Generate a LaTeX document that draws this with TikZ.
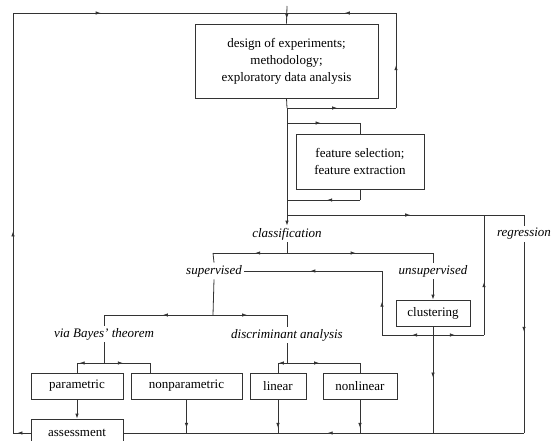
\documentclass[tikz,border=0pt]{standalone}
\usepackage{fontspec}
\setmainfont{Liberation Serif}
\usetikzlibrary{arrows.meta,decorations.markings}
\begin{document}
\begin{tikzpicture}[x=1pt,y=-1pt,line width=0.8pt,draw=black!80,
    font=\fontsize{13}{17}\selectfont,
    box/.style={draw=black!80,minimum height=26pt,inner sep=2pt,align=center},
    lbl/.style={font=\fontsize{13}{17}\selectfont\itshape,inner sep=2pt},
    mid/.style={postaction={decorate},decoration={markings,
        mark=at position #1 with {\arrow{Latex[length=5pt,width=3.5pt]}}}},
    tip/.style={-{Latex[length=5pt,width=3.5pt]}}]
    \clip (0,0) rectangle (560,441);
    % boxes and labels
    \node[box,minimum width=183pt,minimum height=74pt] (design) at (286.5,61)
        {design of experiments;\\ methodology;\\ exploratory data analysis};
    \node[box,minimum width=128pt,minimum height=55pt] (feature) at (360,161.5)
        {feature selection;\\ feature extraction};
    \node[lbl] (classif) at (287,234) {classification};
    \node[lbl] (regr) at (524,234) {regression};
    \node[lbl] (superv) at (214,271) {supervised};
    \node[lbl] (unsuperv) at (433,271) {unsupervised};
    \node[box,minimum width=74pt] (cluster) at (433,313) {clustering};
    \node[lbl] (bayes) at (104,334) {via Bayes' theorem};
    \node[lbl] (discr) at (287,335) {discriminant analysis};
    \node[box,minimum width=92pt] (param) at (77,386) {parametric};
    \node[box,minimum width=111pt] (nonparam) at (186.5,386) {nonparametric};
    \node[box,minimum width=56pt] (linear) at (278,386) {linear};
    \node[box,minimum width=74pt] (nonlinear) at (360,386) {nonlinear};
    \node[box,minimum width=92pt,minimum height=28pt] (assess) at (77,433) {assessment};
    % corner points
    \coordinate (top) at (287,6);
    \coordinate (tl) at (13,13);
    \coordinate (tj) at (287,13);
    \coordinate (tr) at (396,13);
    \coordinate (lj) at (287,108);
    \coordinate (lr) at (396,108);
    \coordinate (fa) at (287,123);
    \coordinate (fb) at (360,123);
    \coordinate (fc) at (360,200);
    \coordinate (fd) at (287,200);
    \coordinate (cj) at (287,215);
    \coordinate (cm) at (484,215);
    \coordinate (cr) at (524,215);
    \coordinate (sj) at (287,253);
    \coordinate (sl) at (213,253);
    \coordinate (sr) at (433,253);
    \coordinate (ku) at (382,271);
    \coordinate (kl) at (382,335);
    \coordinate (kj) at (433,335);
    \coordinate (kr) at (484,335);
    \coordinate (dj) at (213,315);
    \coordinate (dl) at (104,315);
    \coordinate (dr) at (287,315);
    \coordinate (bj) at (104,363);
    \coordinate (bl) at (77,363);
    \coordinate (br) at (150,363);
    \coordinate (ej) at (287,363);
    \coordinate (el) at (278,363);
    \coordinate (er) at (360,363);
    \coordinate (bot) at (524,433);
    \coordinate (al) at (13,433);
    % top part
    \draw[mid=0.72] (top) -- (design.north);
    \draw (design.south) -- (lj);
    \draw[mid=0.46] (lj) -- (lr);
    \draw[mid=0.45] (lr) -- (tr);
    \draw[mid=0.47] (tr) -- (tj);
    \draw[mid=0.32] (tl) -- (tj);
    \draw (lj) -- (fa);
    \draw[mid=0.46] (fa) -- (fb);
    \draw (fb) -- (feature.north);
    \draw (feature.south) -- (fc);
    \draw[mid=0.45] (fc) -- (fd);
    \draw (fa) -- (cj);
    \draw[tip] (cj) -- (classif.north);
    \draw[mid=0.52] (cj) -- (cr);
    \draw (cr) -- (regr.north);
    \draw[mid=0.47] (regr.south) -- (bot);
    % classification
    \draw (classif.south) -- (sj);
    \draw[mid=0.43] (sj) -- (sl);
    \draw (sl) -- (superv.north);
    \draw[mid=0.47] (sj) -- (sr);
    \draw (sr) -- (unsuperv.north);
    \draw[tip] (unsuperv.south) -- (cluster.north);
    \draw[mid=0.48] (cluster.south) -- (cluster.south |- bot);
    \draw[mid=0.41] (kj) -- (kl);
    \draw[mid=0.52] (kl) -- (ku);
    \draw[mid=0.52] (ku) -- (superv.east);
    \draw[mid=0.43] (kj) -- (kr);
    \draw[mid=0.44] (kr) -- (cm);
    % supervised
    \draw (superv.south) -- (dj);
    \draw[mid=0.46] (dj) -- (dl);
    \draw (dl) -- (bayes.north);
    \draw[mid=0.46] (dj) -- (dr);
    \draw (dr) -- (discr.north);
    \draw (bayes.south) -- (bj);
    \draw[mid=0.9] (bj) -- (bl);
    \draw (bl) -- (param.north);
    \draw[mid=0.41] (bj) -- (br);
    \draw (br) -- (br |- nonparam.north);
    \draw (discr.south) -- (ej);
    \draw[mid=0.9] (ej) -- (el);
    \draw (el) -- (linear.north);
    \draw[mid=0.44] (ej) -- (er);
    \draw (er) -- (nonlinear.north);
    % to assessment
    \draw[tip] (param.south) -- (assess.north);
    \draw[mid=0.85] (nonparam.south) -- (nonparam.south |- bot);
    \draw[mid=0.85] (linear.south) -- (linear.south |- bot);
    \draw[mid=0.85] (nonlinear.south) -- (nonlinear.south |- bot);
    \draw[mid=0.49] (bot) -- (assess.east);
    \draw[mid=0.75] (assess.west) -- (al);
    \draw[mid=0.48] (al) -- (tl);
\end{tikzpicture}
\end{document}
